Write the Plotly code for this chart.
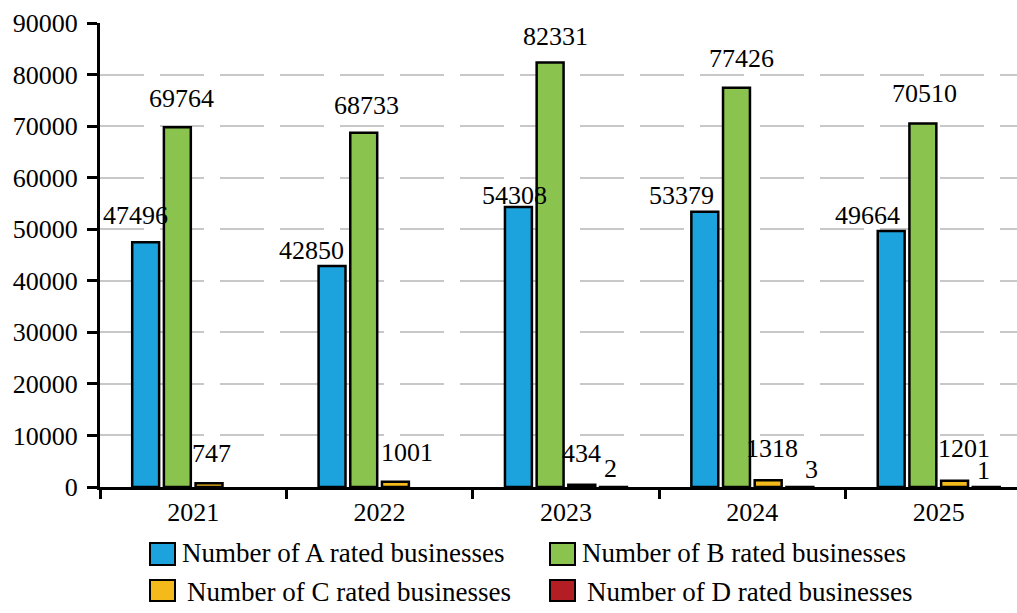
import plotly.graph_objects as go

# Business rating counts per year
years = ["2021", "2022", "2023", "2024", "2025"]
rated_a = [47496, 42850, 54308, 53379, 49664]
rated_b = [69764, 68733, 82331, 77426, 70510]
rated_c = [747, 1001, 434, 1318, 1201]
rated_d = [None, None, 2, 3, 1]

series_names = [
    "Number of A rated businesses",
    "Number of B rated businesses",
    "Number of C rated businesses",
    "Number of D rated businesses",
]
series_values = [rated_a, rated_b, rated_c, rated_d]
series_colors = ["#1ca2dd", "#8bc34f", "#f4b91a", "#b31e24"]

FONT = "Liberation Serif, Times New Roman, serif"
FSIZE = 26
BAR_GAP = 0.32
GROUP_GAP = 0.15

W, H = 1017, 613
M_L, M_R, M_T, M_B = 100, 0, 23, 126
PLOT_W = W - M_L - M_R
PLOT_H = H - M_T - M_B

# Label nudges (pixels) so labels clear neighbouring bars
label_dx = [
    [-10, -21, -4, -23, -24],
    [4, 3, 5, 5, 2],
    [2, 12, 0, 4, 9],
    [0, 0, -3, 12, -3],
]
label_dy = [
    [10, -1, -5, 0, -1],
    [12, 11, 10, 13, 13],
    [13, 13, 15, 15, 16],
    [2, 2, 2, 1, 0],
]

fig = go.Figure()
for name, vals, color in zip(series_names, series_values, series_colors):
    fig.add_trace(go.Bar(
        x=years, y=vals, name=name, showlegend=False,
        marker=dict(color=color, line=dict(color="black", width=2.5)),
    ))

# Value labels placed over each bar of the group
n_series = len(series_values)
slot = (1 - BAR_GAP) / n_series
annotations = []
for k, vals in enumerate(series_values):
    for i, v in enumerate(vals):
        if v is None:
            continue
        xc = i - (1 - BAR_GAP) / 2 + slot * (k + 0.5)
        annotations.append(dict(
            x=xc, y=v, xref="x", yref="y", text=str(v), showarrow=False,
            xanchor="center", yanchor="bottom",
            xshift=label_dx[k][i], yshift=label_dy[k][i],
            font=dict(family=FONT, size=FSIZE, color="black"),
        ))


def px_to_paper(px, py):
    return (px - M_L) / PLOT_W, (H - M_B - py) / PLOT_H


# Two-column legend below the axis: swatch box and label for each series
legend_slots = [
    # (swatch left, swatch top, swatch bottom, text left, text centre y)
    (150, 543, 565, 180, 553),
    (550, 543, 565, 580, 553),
    (150, 580, 601, 185, 592),
    (550, 580, 601, 585, 592),
]
shapes = []
for name, color, (sx, st, sb, tx, ty) in zip(series_names, series_colors, legend_slots):
    x0, y0 = px_to_paper(sx, sb)
    x1, y1 = px_to_paper(sx + 25, st)
    shapes.append(dict(
        type="rect", xref="paper", yref="paper", x0=x0, x1=x1, y0=y0, y1=y1,
        fillcolor=color, line=dict(color="black", width=2), layer="above",
    ))
    lx, ly = px_to_paper(tx, ty)
    annotations.append(dict(
        x=lx, y=ly, xref="paper", yref="paper", text=name, showarrow=False,
        xanchor="left", yanchor="middle",
        font=dict(family=FONT, size=27, color="black"),
    ))

fig.update_layout(
    width=W, height=H,
    margin=dict(l=M_L, r=M_R, t=M_T, b=M_B, autoexpand=False),
    paper_bgcolor="white", plot_bgcolor="white",
    barmode="group", bargap=BAR_GAP, bargroupgap=GROUP_GAP,
    font=dict(family=FONT, size=FSIZE, color="black"),
    annotations=annotations, shapes=shapes, showlegend=False,
)

fig.update_xaxes(
    type="category", range=[-0.5, 4.42],
    showline=True, linecolor="black", linewidth=3,
    ticks="outside", tickson="boundaries", ticklen=9, tickwidth=3, tickcolor="black",
    showgrid=False, tickfont=dict(family=FONT, size=FSIZE),
)
fig.update_yaxes(
    range=[0, 90000], dtick=10000, tick0=0, tickformat="d",
    showline=True, linecolor="black", linewidth=3,
    ticks="outside", ticklen=10, tickwidth=3, tickcolor="black",
    ticklabelstandoff=4,
    showgrid=True, gridcolor="#c8c8c8", gridwidth=2, griddash="44px,16px",
    zeroline=False, tickfont=dict(family=FONT, size=FSIZE),
)

fig.write_html("out.html")
